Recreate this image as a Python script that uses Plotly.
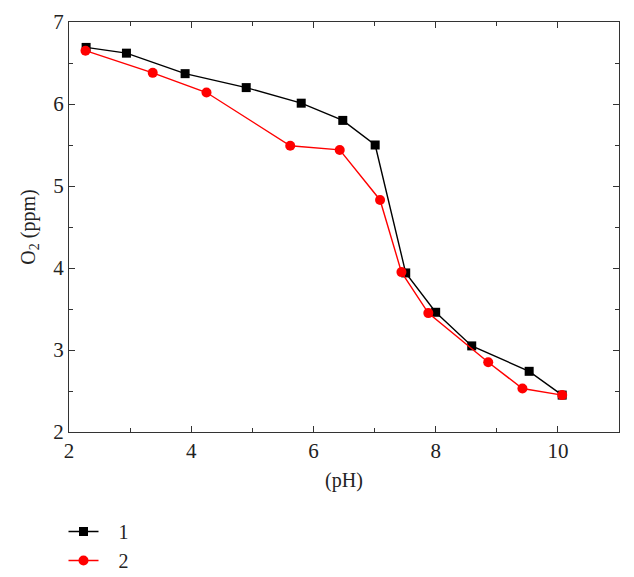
import plotly.graph_objects as go

ph_1 = [2.28, 2.94, 3.90, 4.90, 5.80, 6.48, 7.01, 7.51, 8.00, 8.59, 9.53, 10.07]
o2_1 = [6.69, 6.62, 6.37, 6.20, 6.01, 5.80, 5.50, 3.94, 3.46, 3.05, 2.74, 2.45]

ph_2 = [2.27, 3.37, 4.25, 5.62, 6.43, 7.09, 7.44, 7.88, 8.86, 9.42, 10.07]
o2_2 = [6.65, 6.38, 6.14, 5.49, 5.44, 4.83, 3.95, 3.45, 2.85, 2.53, 2.45]

font_family = "Liberation Serif"

fig = go.Figure()
fig.add_trace(go.Scatter(
    x=ph_1, y=o2_1, mode="lines+markers", name="&nbsp;&nbsp;&nbsp;1",
    line=dict(color="black", width=1.4),
    marker=dict(symbol="square", size=9, color="black"),
))
fig.add_trace(go.Scatter(
    x=ph_2, y=o2_2, mode="lines+markers", name="&nbsp;&nbsp;&nbsp;2",
    line=dict(color="red", width=1.4),
    marker=dict(symbol="circle", size=10, color="red"),
))

axis_style = dict(
    showgrid=False, zeroline=False, showline=True, linecolor="#333", linewidth=1.3,
    mirror="ticks", ticks="inside", ticklen=6, tickwidth=1.3, tickcolor="#333",
    tickfont=dict(size=21, color="#222", family=font_family),
)

fig.update_xaxes(
    range=[2, 11], tickmode="array", tickvals=[2, 4, 6, 8, 10],
    minor=dict(tickvals=[3, 5, 7, 9], ticks="inside", ticklen=4, tickwidth=1.3, tickcolor="#333"),
    title=dict(text="(pH)", font=dict(size=20, color="#222", family=font_family), standoff=10),
    **axis_style,
)
fig.update_yaxes(
    range=[2, 7], tickmode="array", tickvals=[2, 3, 4, 5, 6, 7],
    minor=dict(tickvals=[2.5, 3.5, 4.5, 5.5, 6.5], ticks="inside", ticklen=4, tickwidth=1.3, tickcolor="#333"),
    title=dict(text="O<sub>2</sub> (ppm)", font=dict(size=20, color="#222", family=font_family), standoff=12),
    **axis_style,
)

fig.update_layout(
    width=634, height=577,
    margin=dict(l=61, r=23, t=14, b=153, autoexpand=False),
    plot_bgcolor="white", paper_bgcolor="white",
    font=dict(family=font_family, color="#222"),
    legend=dict(
        x=-0.01, y=-0.195, xanchor="left", yanchor="top",
        font=dict(size=20, family=font_family, color="#222"),
        bgcolor="rgba(0,0,0,0)", tracegroupgap=0,
    ),
)

fig.write_html("out.html")
